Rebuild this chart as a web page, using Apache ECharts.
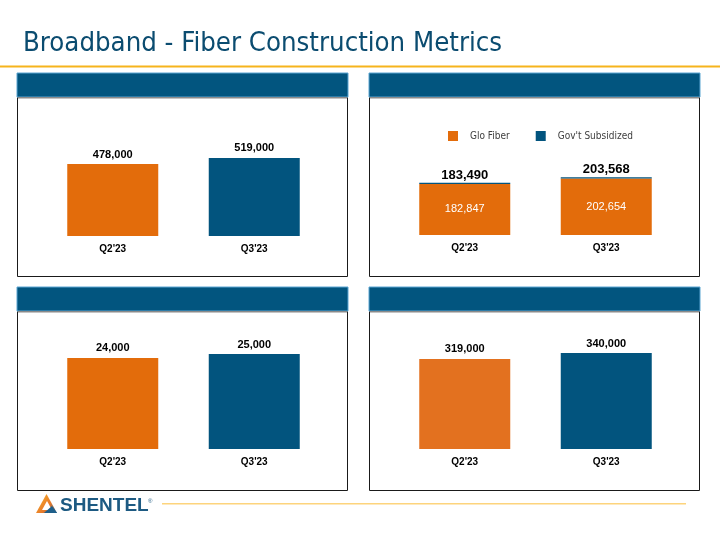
<!DOCTYPE html>
<html>
<head>
<meta charset="utf-8">
<script src="https://cdn.jsdelivr.net/npm/echarts@6/dist/echarts.min.js"></script>
<style>html,body{margin:0;padding:0;background:#fff;}#c{width:720px;height:540px;}</style>
</head>
<body>
<div id="c"></div>
<script>
// ---- Data ----
const categories = ["Q2'23", "Q3'23"];
const panel1Values = [478000, 519000];
const gloFiber = [182847, 202654];
const govtSubsidized = [643, 914];
const panel2Totals = [183490, 203568];
const panel3Values = [24000, 25000];
const panel4Values = [319000, 340000];
const titleText = 'Broadband - Fiber Construction Metrics';
const legendNames = ['Glo Fiber', "Gov't Subsidized"];

// ---- Styles ----
const ORANGE = '#E36C0B';
const ORANGE2 = '#E3711F';
const BLUE = '#02547E';
const HEADER = '#02557F';
const fmt = v => v.toLocaleString('en-US');
const FONT = 'Liberation Sans, Arial, sans-serif';

const chart = echarts.init(document.getElementById('c'), null, {renderer: 'canvas'});

function panel(x, y, w, h) {
  return [
    {type: 'rect', shape: {x: x + 0.5, y: y + 24.5, width: w - 1, height: h - 25}, style: {fill: '#fff', stroke: '#1a1a1a', lineWidth: 1}},
    {type: 'rect', shape: {x: x, y: y, width: w, height: 24}, style: {fill: HEADER, stroke: '#5AA5D2', lineWidth: 1}},
    {type: 'rect', shape: {x: x + 1, y: y + 24, width: w - 2, height: 1.5}, style: {fill: '#8a8a8a'}}
  ];
}

const grids = [
  {left: 42, top: 136, width: 283, height: 100},
  {left: 394, top: 135, width: 283, height: 100},
  {left: 42, top: 349, width: 283, height: 100},
  {left: 394, top: 349, width: 283, height: 100}
];
const maxes = [665000, 358000, 26350, 354200];

const xAxes = grids.map((g, i) => ({
  type: 'category', gridIndex: i, data: categories,
  axisLine: {show: false}, axisTick: {show: false},
  axisLabel: {color: '#000', fontSize: 10, fontWeight: 'bold', fontFamily: FONT, margin: 8}
}));
const yAxes = grids.map((g, i) => ({
  type: 'value', gridIndex: i, min: 0, max: maxes[i], show: false, splitLine: {show: false}
}));

const topLabel = {show: true, position: 'top', distance: 4, color: '#000', fontSize: 11, fontWeight: 'bold', fontFamily: FONT, formatter: p => fmt(p.value)};

function twoColor(vals, c1, c2) {
  return vals.map((v, i) => ({value: v, itemStyle: {color: i === 0 ? c1 : c2}}));
}

const option = {
  animation: false,
  backgroundColor: '#fff',
  grid: grids,
  xAxis: xAxes,
  yAxis: yAxes,
  legend: {
    data: legendNames, left: 443, top: 126, itemWidth: 10, itemHeight: 10, itemGap: 26,
    icon: 'rect',
    textStyle: {color: '#404040', fontSize: 10, fontFamily: '"DejaVu Sans Condensed", "DejaVu Sans", sans-serif', padding: [0, 0, 0, 7]}
  },
  graphic: [
    {type: 'text', style: {x: 23, y: 43.5, text: titleText, fill: '#0B4C70', font: '27.3px "DejaVu Sans Condensed", "DejaVu Sans", sans-serif', verticalAlign: 'middle'}},
    {type: 'rect', shape: {x: 0, y: 65.5, width: 720, height: 2}, style: {fill: '#F6B41C'}},
    ...panel(17, 73, 331, 204),
    ...panel(369, 73, 331, 204),
    ...panel(17, 287, 331, 204),
    ...panel(369, 287, 331, 204),
    {type: 'rect', shape: {x: 162, y: 503, width: 524, height: 1.6}, style: {fill: '#FDD47C'}},
    // logo triangle
    {type: 'polygon', shape: {points: [[36, 513], [46.5, 494], [57, 513]]}, style: {fill: new echarts.graphic.LinearGradient(0, 0, 1, 1, [{offset: 0, color: '#F7B52A'}, {offset: 0.6, color: '#E8792A'}, {offset: 1, color: '#1C5C88'}])}},
    {type: 'polygon', shape: {points: [[42, 510], [47, 501], [52, 510]]}, style: {fill: '#fff'}},
    {type: 'polygon', shape: {points: [[44, 513], [52, 506], [57, 513]]}, style: {fill: '#1E5F8A'}},
    {type: 'text', style: {x: 60, y: 506, text: 'SHENTEL', fill: '#1D5A82', font: 'bold 19px "Liberation Sans", Arial, sans-serif', verticalAlign: 'middle'}},
    {type: 'text', style: {x: 148, y: 501, text: '®', fill: '#1D5A82', font: '6px "Liberation Sans", Arial, sans-serif', verticalAlign: 'middle'}}
  ],
  series: [
    {type: 'bar', xAxisIndex: 0, yAxisIndex: 0, barWidth: 91, data: twoColor(panel1Values, ORANGE, BLUE), label: topLabel},
    {type: 'bar', name: legendNames[0], xAxisIndex: 1, yAxisIndex: 1, barWidth: 91, stack: 'fib', itemStyle: {color: ORANGE}, data: gloFiber,
      label: {show: true, position: 'inside', color: '#fff', fontSize: 11, fontFamily: FONT, formatter: p => fmt(p.value)}},
    {type: 'bar', name: legendNames[1], xAxisIndex: 1, yAxisIndex: 1, barWidth: 91, stack: 'fib', barMinHeight: 1.2, itemStyle: {color: BLUE}, data: govtSubsidized,
      label: {show: true, position: 'top', distance: 1, color: '#000', fontSize: 13, fontWeight: 'bold', fontFamily: FONT, formatter: p => fmt(panel2Totals[p.dataIndex])}},
    {type: 'bar', xAxisIndex: 2, yAxisIndex: 2, barWidth: 91, data: twoColor(panel3Values, ORANGE, BLUE), label: topLabel},
    {type: 'bar', xAxisIndex: 3, yAxisIndex: 3, barWidth: 91, data: twoColor(panel4Values, ORANGE2, BLUE), label: topLabel}
  ]
};
chart.setOption(option);
</script>
</body>
</html>
